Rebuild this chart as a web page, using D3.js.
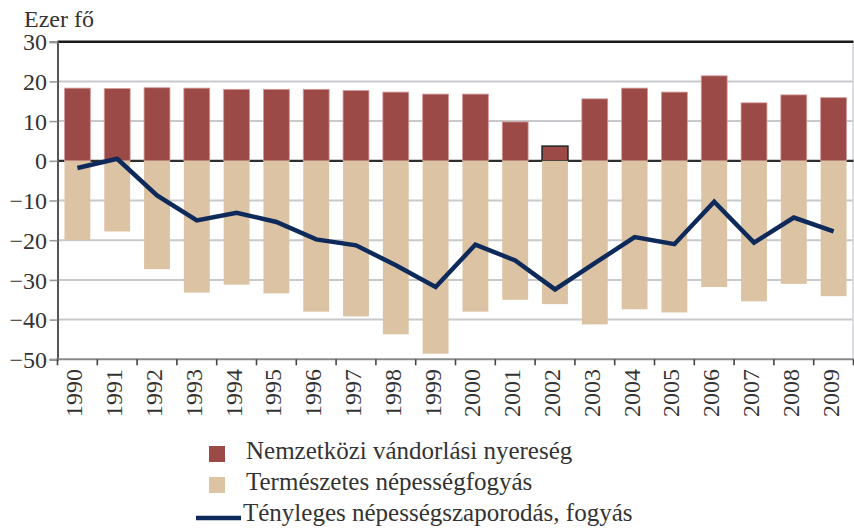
<!DOCTYPE html>
<html>
<head>
<meta charset="utf-8">
<script src="https://cdn.jsdelivr.net/npm/d3@7"></script>
<style>
  html, body { margin: 0; padding: 0; background: #fff; }
  svg { display: block; }
</style>
</head>
<body>
<svg id="chart" width="854" height="529"></svg>
<script>
const years = [1990,1991,1992,1993,1994,1995,1996,1997,1998,1999,2000,2001,2002,2003,2004,2005,2006,2007,2008,2009];
const migration = [18.3,18.2,18.4,18.3,18.0,18.0,18.0,17.7,17.3,16.8,16.8,9.8,3.7,15.6,18.3,17.3,21.4,14.6,16.6,15.9];
const naturalDecrease = [-20.0,-17.8,-27.3,-33.2,-31.2,-33.4,-38.0,-39.2,-43.7,-48.6,-38.0,-35.0,-36.1,-41.2,-37.4,-38.2,-31.8,-35.4,-31.0,-34.1];
const actualChange = [-1.8,0.5,-8.7,-15.0,-13.1,-15.4,-19.8,-21.3,-26.3,-31.8,-21.1,-25.1,-32.4,-25.8,-19.2,-21.0,-10.3,-20.6,-14.3,-17.8];
const yTicks = [30,20,10,0,-10,-20,-30,-40,-50];
const unitLabel = "Ezer fő";
const legendLabels = ["Nemzetközi vándorlási nyereség", "Természetes népességfogyás", "Tényleges népességszaporodás, fogyás"];

const colors = { migration: "#9c4a48", natural: "#dcc3a3", line: "#0e2a5b" };
const FONT = "'Liberation Serif', Tinos, 'Times New Roman', Times, 'DejaVu Serif', serif";

const svg = d3.select("#chart");
const plotL = 57.5, plotR = 853.5, plotT = 41.7, plotB = 359.3;

const x = d3.scaleBand().domain(years).range([plotL, plotR]).paddingInner(0.35).paddingOuter(0.175);
const y = d3.scaleLinear().domain([-50, 30]).range([plotB, plotT]);

// gridlines
svg.append("g").selectAll("line")
  .data(yTicks.filter(t => t !== 0 && t !== 30 && t !== -50))
  .join("line")
  .attr("x1", plotL).attr("x2", plotR)
  .attr("y1", d => y(d)).attr("y2", d => y(d))
  .attr("stroke", "#c9c9cd").attr("stroke-width", 2);

// right border
svg.append("line").attr("x1", plotR - 0.5).attr("x2", plotR - 0.5)
  .attr("y1", plotT).attr("y2", plotB).attr("stroke", "#d0d0d4").attr("stroke-width", 1.5);

// zero line
svg.append("line").attr("x1", plotL).attr("x2", plotR)
  .attr("y1", y(0)).attr("y2", y(0)).attr("stroke", "#2e2e2e").attr("stroke-width", 2.2);

// top border
svg.append("line").attr("x1", plotL).attr("x2", plotR)
  .attr("y1", y(30)).attr("y2", y(30)).attr("stroke", "#1a1a1a").attr("stroke-width", 2.6);

// bars
svg.append("g").selectAll("rect")
  .data(years.map((yr, i) => ({ yr, v: migration[i] })))
  .join("rect")
  .attr("x", d => x(d.yr)).attr("width", x.bandwidth())
  .attr("y", d => y(d.v)).attr("height", d => y(0) - y(d.v))
  .attr("fill", colors.migration)
  .attr("stroke", d => d.yr === 2002 ? "#2a2a2a" : "#d49a98")
  .attr("stroke-width", d => d.yr === 2002 ? 1.6 : 0.8);

svg.append("g").selectAll("rect")
  .data(years.map((yr, i) => ({ yr, v: naturalDecrease[i] })))
  .join("rect")
  .attr("x", d => x(d.yr)).attr("width", x.bandwidth())
  .attr("y", y(0)).attr("height", d => y(d.v) - y(0))
  .attr("fill", colors.natural);

// line
const line = d3.line()
  .x((d, i) => x(years[i]) + x.bandwidth() / 2)
  .y(d => y(d));
svg.append("path").datum(actualChange)
  .attr("d", line)
  .attr("fill", "none").attr("stroke", colors.line)
  .attr("stroke-width", 4.5).attr("stroke-linejoin", "miter");

// left axis
const yAxis = d3.axisLeft(y).tickValues(yTicks).tickSize(8)
  .tickFormat(d => d < 0 ? "\u2212" + Math.abs(d) : String(d));
const ya = svg.append("g").attr("transform", `translate(${plotL},0)`).call(yAxis)
  .attr("font-family", null).attr("font-size", null);
ya.select(".domain").attr("stroke", "#555").attr("stroke-width", 2);
ya.selectAll(".tick line").attr("stroke", "#9a9a9a").attr("stroke-width", 1.6);
ya.selectAll(".tick text").attr("x", -10.5).attr("dy", "0.34em")
  .attr("font-family", FONT).attr("font-size", 24).attr("fill", "#333");

// bottom axis
const step = x.step();
const boundaries = d3.range(years.length + 1).map(i => plotL + i * step);
svg.append("line").attr("x1", plotL - 1).attr("x2", plotR)
  .attr("y1", plotB).attr("y2", plotB).attr("stroke", "#8a8a8a").attr("stroke-width", 2);
svg.append("g").selectAll("line").data(boundaries).join("line")
  .attr("x1", d => d).attr("x2", d => d)
  .attr("y1", plotB).attr("y2", plotB + 6)
  .attr("stroke", "#444").attr("stroke-width", 1.6);

svg.append("g").selectAll("text").data(years).join("text")
  .attr("transform", d => `translate(${x(d) + x.bandwidth() / 2 + 5},369) rotate(-90)`)
  .attr("text-anchor", "end")
  .attr("font-family", FONT).attr("font-size", 24).attr("fill", "#333")
  .text(d => d);

// unit label
svg.append("text").attr("x", 24).attr("y", 27)
  .attr("font-family", FONT).attr("font-size", 24).attr("fill", "#333").text(unitLabel);

// legend
const lg = svg.append("g");
lg.append("rect").attr("x", 209).attr("y", 446).attr("width", 16).attr("height", 16).attr("fill", colors.migration);
lg.append("rect").attr("x", 209).attr("y", 477).attr("width", 16).attr("height", 16).attr("fill", colors.natural);
lg.append("line").attr("x1", 196).attr("x2", 241).attr("y1", 518).attr("y2", 518)
  .attr("stroke", colors.line).attr("stroke-width", 4.5);
lg.selectAll("text").data(legendLabels).join("text")
  .attr("x", (d, i) => i < 2 ? 246 : 243)
  .attr("y", (d, i) => 459 + i * 31)
  .attr("font-family", FONT).attr("font-size", 25).attr("fill", "#333")
  .text(d => d);
</script>
</body>
</html>
